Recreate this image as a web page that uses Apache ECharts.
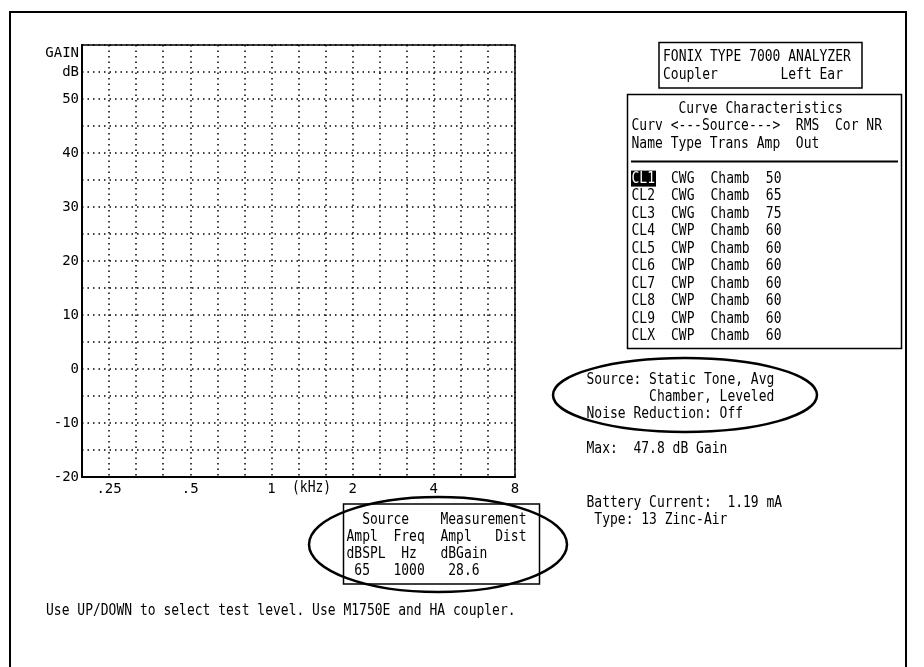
<!DOCTYPE html>
<html>
<head>
<meta charset="utf-8">
<script src="https://cdn.jsdelivr.net/npm/echarts@6/dist/echarts.min.js"></script>
<style>
html,body{margin:0;padding:0;background:#fff;}
#chart{width:924px;height:667px;}
</style>
</head>
<body>
<div id="chart"></div>
<script>
// ---- data ----
const yMin = -20, yMax = 60, yStep = 5;
const yTickValues = [60, 55, 50, 40, 30, 20, 10, 0, -10, -20];
const yTickLabels = ['GAIN', 'dB', '50', '40', '30', '20', '10', '0', '-10', '-20'];
// x axis in third-octave steps relative to 1 kHz
const xMin = -7, xMax = 9, xStep = 1;
const xTickValues = [-6, -3, 0, 3, 6, 9];
const xTickLabels = ['.25', '.5', '1', '2', '4', '8'];

const curveNames = ['CL1', 'CL2', 'CL3', 'CL4', 'CL5', 'CL6', 'CL7', 'CL8', 'CL9', 'CLX'];
const curveTypes = ['CWG', 'CWG', 'CWG', 'CWP', 'CWP', 'CWP', 'CWP', 'CWP', 'CWP', 'CWP'];
const curveTrans = ['Chamb', 'Chamb', 'Chamb', 'Chamb', 'Chamb', 'Chamb', 'Chamb', 'Chamb', 'Chamb', 'Chamb'];
const curveAmps = ['50', '65', '75', '60', '60', '60', '60', '60', '60', '60'];

const headerLines = ['FONIX TYPE 7000 ANALYZER', 'Coupler        Left Ear'];
const tableHeader = ['      Curve Characteristics', 'Curv <---Source--->  RMS  Cor NR', 'Name Type Trans Amp  Out'];
const sourceLines = ['Source: Static Tone, Avg', '        Chamber, Leveled', 'Noise Reduction: Off'];
const maxLine = 'Max:  47.8 dB Gain';
const batteryLines = ['Battery Current:  1.19 mA', ' Type: 13 Zinc-Air'];
const measLines = ['  Source    Measurement', 'Ampl  Freq  Ampl   Dist', 'dBSPL  Hz   dBGain', ' 65   1000   28.6'];
const footerLine = 'Use UP/DOWN to select test level. Use M1750E and HA coupler.';

// ---- rendering ----
const FONT_FAMILY = '"DejaVu Sans Mono", monospace';
const FS = 13;
const SY = 1.22;
function txt(text, x, y, fill) {
  return {
    type: 'text', x: x, y: y, z: 10, scaleY: SY, originX: 0, originY: 0,
    style: { text: text, fontFamily: FONT_FAMILY, fontSize: FS, fill: fill || '#000', verticalAlign: 'middle', align: 'left' }
  };
}
const g = [];
// outer frame
g.push({ type: 'rect', shape: { x: 10, y: 12, width: 896, height: 700 }, style: { fill: null, stroke: '#000', lineWidth: 2 } });
// FONIX box
g.push({ type: 'rect', shape: { x: 659, y: 42.5, width: 203, height: 45.5 }, style: { fill: null, stroke: '#000', lineWidth: 1.5 } });
headerLines.forEach((t, i) => g.push(txt(t, 663, 56.5 + i * 18.5)));
// curve table box
g.push({ type: 'rect', shape: { x: 627.5, y: 94.5, width: 274, height: 254 }, style: { fill: null, stroke: '#000', lineWidth: 1.5 } });
tableHeader.forEach((t, i) => g.push(txt(t, 631.5, 108.5 + i * 17.7)));
g.push({ type: 'line', shape: { x1: 631, y1: 161.5, x2: 898, y2: 161.5 }, style: { stroke: '#000', lineWidth: 2 } });
curveNames.forEach((n, i) => {
  const y = 178.6 + i * 17.5;
  if (i === 0) {
    g.push({ type: 'rect', shape: { x: 631, y: y - 8, width: 25, height: 16 }, style: { fill: '#000' }, z: 9 });
    g.push(txt(n, 631.5, y, '#fff'));
  } else {
    g.push(txt(n, 631.5, y));
  }
  g.push(txt(curveTypes[i], 631.5 + 5 * 7.9, y));
  g.push(txt(curveTrans[i], 631.5 + 10 * 7.9, y));
  g.push(txt(curveAmps[i], 631.5 + 17 * 7.9, y));
});
// source ellipse
sourceLines.forEach((t, i) => g.push(txt(t, 586.5, 380 + i * 16.8)));
g.push({ type: 'ellipse', shape: { cx: 685, cy: 395, rx: 132, ry: 37 }, style: { fill: null, stroke: '#000', lineWidth: 2.5 }, z: 11 });
g.push(txt(maxLine, 586.5, 449));
batteryLines.forEach((t, i) => g.push(txt(t, 586.5, 502.5 + i * 17)));
// measurement box
g.push({ type: 'rect', shape: { x: 343.5, y: 504, width: 196, height: 80 }, style: { fill: null, stroke: '#000', lineWidth: 1.5 } });
measLines.forEach((t, i) => g.push(txt(t, 346.5, 519.5 + i * 17.2)));
g.push({ type: 'ellipse', shape: { cx: 438, cy: 544.5, rx: 129, ry: 47.5 }, style: { fill: null, stroke: '#000', lineWidth: 2.5 }, z: 11 });
// kHz label and footer
g.push(txt('(kHz)', 292, 488));
g.push(txt(footerLine, 46, 611));

const chart = echarts.init(document.getElementById('chart'), null, { renderer: 'canvas' });
const dotted = { color: '#000', width: 1.5, type: [1.5, 4] };
chart.setOption({
  animation: false,
  backgroundColor: '#fff',
  grid: { left: 82, top: 45, width: 433, height: 432, show: true, borderColor: '#000', borderWidth: 1.5, backgroundColor: 'transparent' },
  xAxis: {
    type: 'value', min: xMin, max: xMax, interval: xStep,
    axisLine: { show: true, onZero: false, lineStyle: { color: '#000', width: 2 } },
    axisTick: { show: false },
    splitLine: { show: true, lineStyle: dotted },
    axisLabel: {
      show: true, margin: 5, color: '#000', fontFamily: FONT_FAMILY, fontSize: 14,
      showMinLabel: true, showMaxLabel: true, hideOverlap: false,
      formatter: function (v) {
        const k = xTickValues.indexOf(Math.round(v));
        return k >= 0 ? xTickLabels[k] : '';
      }
    }
  },
  yAxis: {
    type: 'value', min: yMin, max: yMax, interval: yStep,
    axisLine: { show: true, onZero: false, lineStyle: { color: '#000', width: 2 } },
    axisTick: { show: false },
    splitLine: { show: true, lineStyle: dotted },
    axisLabel: {
      show: true, margin: 3, color: '#000', fontFamily: FONT_FAMILY, fontSize: 14,
      showMinLabel: true, showMaxLabel: true, hideOverlap: false,
      formatter: function (v) {
        const k = yTickValues.indexOf(Math.round(v));
        if (k < 0) return '';
        return k === 0 ? '{top|' + yTickLabels[k] + '}' : yTickLabels[k];
      },
      rich: { top: { fontFamily: FONT_FAMILY, fontSize: 14, color: '#000', padding: [16, 0, 0, 0] } }
    }
  },
  series: [{ type: 'line', data: [], silent: true }],
  graphic: g
});
</script>
</body>
</html>
